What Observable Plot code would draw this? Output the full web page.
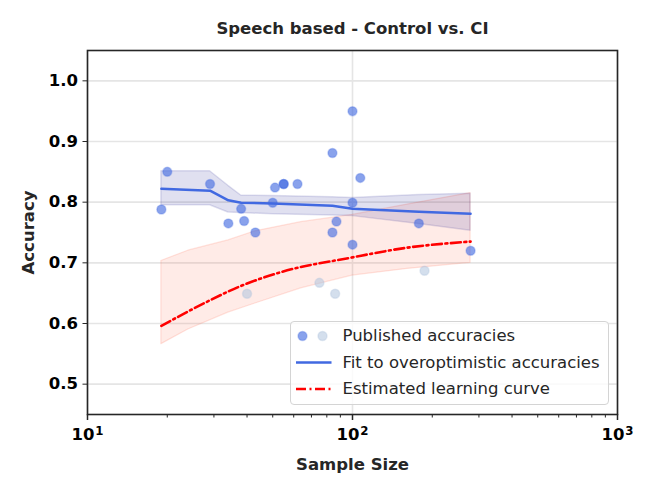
<!DOCTYPE html>
<html><head><meta charset="utf-8">
<script src="https://cdn.jsdelivr.net/npm/d3@7"></script>
<script src="https://cdn.jsdelivr.net/npm/@observablehq/plot@0.6"></script>
<style>
body{margin:0;background:#fff}
#wrap{position:relative;width:653px;height:494px}
#legend{box-sizing:border-box;position:absolute;left:290px;top:321px;width:319px;height:84px;border:1.5px solid #d4d4d4;border-radius:4px;background:rgba(255,255,255,0.8);font-family:"DejaVu Sans";font-size:16.5px;color:#262626}
#legend svg{position:absolute;left:0;top:0}
#legend span{position:absolute;left:51.5px;white-space:nowrap;line-height:20px;height:20px}
</style>
</head><body><div id="wrap"></div>
<script>
// Published accuracies (included)
const pubN   = [19, 20, 29, 34, 38, 39, 43, 50, 51, 55, 55, 62, 84, 84, 87, 100, 100, 100, 107, 178, 279];
const pubAcc = [0.788, 0.850, 0.830, 0.765, 0.789, 0.769, 0.750, 0.799, 0.824, 0.830, 0.830, 0.830, 0.881, 0.750, 0.768, 0.950, 0.799, 0.730, 0.840, 0.765, 0.720];
// Published accuracies (faded)
const fadeN   = [40, 75, 86, 187];
const fadeAcc = [0.649, 0.667, 0.649, 0.687];
// Fit to overoptimistic accuracies
const fitN    = [19, 29, 34, 38, 50, 84, 100, 178, 279];
const fitMean = [0.822, 0.819, 0.803, 0.799, 0.798, 0.794, 0.789, 0.784, 0.781];
const fitHigh = [0.851, 0.851, 0.827, 0.811, 0.810, 0.808, 0.807, 0.812, 0.814];
const fitLow  = [0.795, 0.795, 0.783, 0.782, 0.780, 0.778, 0.777, 0.764, 0.753];
// Estimated learning curve
const lcN    = [19, 28, 38, 53, 100, 161, 279];
const lcMean = [0.596, 0.635, 0.662, 0.684, 0.709, 0.725, 0.735];
const bandN    = [19, 24, 34, 43, 64, 100, 161, 279];
const bandHigh = [0.703, 0.720, 0.737, 0.752, 0.767, 0.779, 0.796, 0.815];
const bandLow  = [0.566, 0.590, 0.618, 0.633, 0.658, 0.679, 0.690, 0.700];
// Ticks
const yTicks = [0.5, 0.6, 0.7, 0.8, 0.9, 1.0];
const xMajor = [10, 100, 1000];
const xExp   = ["1", "2", "3"];
const xMinor = [20,30,40,50,60,70,80,90,200,300,400,500,600,700,800,900];

const pub = pubN.map((n,i)=>({n, acc: pubAcc[i]}));
const fade = fadeN.map((n,i)=>({n, acc: fadeAcc[i]}));
const fit = fitN.map((n,i)=>({n, mean: fitMean[i], high: fitHigh[i], low: fitLow[i]}));
const lc = lcN.map((n,i)=>({n, mean: lcMean[i]}));
const band = bandN.map((n,i)=>({n, high: bandHigh[i], low: bandLow[i]}));
const xt = xMajor.map((n,i)=>({n, base: "10", exp: xExp[i]}));

const bold = {fontWeight: "bold", fill: "#262626", lineAnchor: "middle", textAnchor: "middle"};

const chart = Plot.plot({
  width: 653, height: 494,
  marginLeft: 87, marginRight: 36, marginTop: 50, marginBottom: 80,
  x: {type: "log", domain: [10, 1000]},
  y: {domain: [0.45, 1.05]},
  style: {fontFamily: "DejaVu Sans", fontSize: "16.5px", fontWeight: "bold", color: "#000", background: "#fff", overflow: "visible"},
  marks: [
    Plot.gridY(yTicks, {stroke: "#e5e5e5", strokeOpacity: 1, strokeWidth: 1.6}),
    Plot.gridX(xMajor, {stroke: "#e5e5e5", strokeOpacity: 1, strokeWidth: 1.6}),
    Plot.areaY(band, {x: "n", y1: "low", y2: "high", fill: "#ff6347", fillOpacity: 0.13, stroke: "#ff6347", strokeOpacity: 0.18, strokeWidth: 1.2}),
    Plot.areaY(fit, {x: "n", y1: "low", y2: "high", fill: "#000080", fillOpacity: 0.12, stroke: "#000080", strokeOpacity: 0.12, strokeWidth: 1.5}),
    Plot.dot(fade, {x: "n", y: "acc", r: 4.5, fill: "#b0c4de", fillOpacity: 0.55, stroke: "#b0c4de", strokeOpacity: 0.35, strokeWidth: 1.5}),
    Plot.dot(pub, {x: "n", y: "acc", r: 4.5, fill: "#4169e1", fillOpacity: 0.62, stroke: "#4169e1", strokeOpacity: 0.3, strokeWidth: 1.5}),
    Plot.line(fit, {x: "n", y: "mean", stroke: "#4169e1", strokeWidth: 2.5}),
    Plot.line(lc, {x: "n", y: "mean", stroke: "#ff0000", strokeWidth: 2.6, strokeDasharray: "10,3.5,2,3.5", curve: "monotone-x"}),
    Plot.frame({stroke: "#262626", strokeWidth: 1.6}),
    Plot.axisY(yTicks, {tickSize: 4.5, tickPadding: 5, tickFormat: d3.format(".1f"), label: null, stroke: "#262626", fill: "#000"}),
    Plot.axisX(xMajor, {tickSize: 6, text: null, label: null, strokeWidth: 1.5, stroke: "#262626"}),
    Plot.axisX(xMinor, {tickSize: 3.5, text: null, label: null, stroke: "#262626"}),
    Plot.text(xt, {x: "n", text: "base", frameAnchor: "bottom", dy: 20.5, dx: -4.5, fontWeight: "bold", fill: "#000", lineAnchor: "middle", textAnchor: "middle"}),
    Plot.text(xt, {x: "n", text: "exp", frameAnchor: "bottom", dy: 16.5, dx: 7.8, fontSize: 11.8, fontWeight: "bold", fill: "#000", lineAnchor: "middle", textAnchor: "start"}),
    Plot.text(["Speech based - Control vs. CI"], {...bold, frameAnchor: "top", dy: -22}),
    Plot.text(["Sample Size"], {...bold, frameAnchor: "bottom", dy: 50}),
    Plot.text(["Accuracy"], {...bold, frameAnchor: "left", dx: -59, rotate: -90})
  ]
});
const wrap = document.getElementById("wrap");
wrap.appendChild(chart);

const legend = document.createElement("div");
legend.id = "legend";
legend.innerHTML = `
<svg width="60" height="81">
  <circle cx="11.5" cy="14" r="4.5" fill="#4169e1" fill-opacity="0.62" stroke="#4169e1" stroke-opacity="0.3" stroke-width="1.5"/>
  <circle cx="31.5" cy="14" r="4.5" fill="#b0c4de" fill-opacity="0.55" stroke="#b0c4de" stroke-opacity="0.35" stroke-width="1.5"/>
  <line x1="5" x2="40.5" y1="40.5" y2="40.5" stroke="#4169e1" stroke-width="2.5"/>
  <line x1="5" x2="40.5" y1="67" y2="67" stroke="#ff0000" stroke-width="2.6" stroke-dasharray="10,3.5,2,3.5"/>
</svg>
<span style="top:4px">Published accuracies</span>
<span style="top:30.5px">Fit to overoptimistic accuracies</span>
<span style="top:57px">Estimated learning curve</span>`;
wrap.appendChild(legend);
</script>
</body></html>
